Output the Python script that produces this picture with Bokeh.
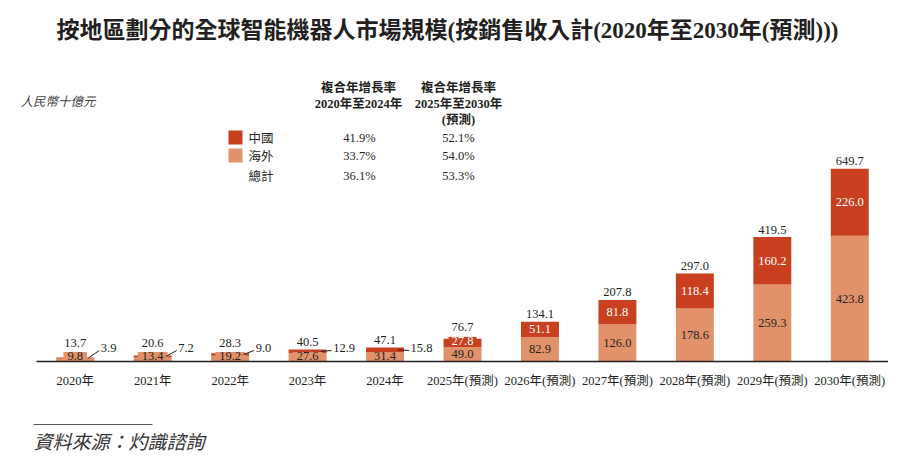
from bokeh.plotting import figure
from bokeh.models import Range1d
from bokeh.core.properties import value
from bokeh.embed import file_html
from bokeh.resources import INLINE

# ---------------- data ----------------
years = ["2020年", "2021年", "2022年", "2023年", "2024年",
         "2025年(預測)", "2026年(預測)", "2027年(預測)", "2028年(預測)",
         "2029年(預測)", "2030年(預測)"]
china = [3.9, 7.2, 9.0, 12.9, 15.8, 27.8, 51.1, 81.8, 118.4, 160.2, 226.0]
overseas = [9.8, 13.4, 19.2, 27.6, 31.4, 49.0, 82.9, 126.0, 178.6, 259.3, 423.8]
totals = [13.7, 20.6, 28.3, 40.5, 47.1, 76.7, 134.1, 207.8, 297.0, 419.5, 649.7]

series_names = ["中國", "海外", "總計"]
cagr_2020_2024 = ["41.9%", "33.7%", "36.1%"]
cagr_2025_2030 = ["52.1%", "54.0%", "53.3%"]

TITLE = "按地區劃分的全球智能機器人市場規模(按銷售收入計(2020年至2030年(預測)))"
UNIT = "人民幣十億元"
HEAD1 = ["複合年增長率", "2020年至2024年"]
HEAD2 = ["複合年增長率", "2025年至2030年", "(預測)"]
SOURCE = "資料來源：灼識諮詢"

# ---------------- styles ----------------
C_CN = "#C8401F"
C_OS = "#E2926B"
C_TXT = "#231F20"
NUM = value("Liberation Serif")
MIX = value("Liberation Serif, Noto Sans CJK TC")
CJK = value("Noto Sans CJK TC")

W, H = 888, 462
SCALE = 0.2965          # px per unit (y)
BAND = 852 / 11         # px per category (x)
BASE = 361              # baseline, px from top
XS = -0.5 - 36 / BAND
XE = XS + W / BAND
YS = -(H - BASE) / SCALE
YE = BASE / SCALE


def X(px):  # px from left -> data x
    return XS + px / W * (XE - XS)


def Y(py):  # px from top -> data y
    return YE - py / H * (YE - YS)


p = figure(width=W, height=H, output_backend="svg", toolbar_location=None,
           x_range=Range1d(XS, XE), y_range=Range1d(YS, YE),
           x_axis_type=None, y_axis_type=None, min_border=0)
p.outline_line_color = None
p.background_fill_color = "white"
p.border_fill_color = "white"

n = len(years)
idx = list(range(n))
stack_top = [o + c for o, c in zip(overseas, china)]

p.vbar(x=idx, bottom=0, top=overseas, width=0.49, fill_color=C_OS, line_color=None)
p.vbar(x=idx, bottom=overseas, top=stack_top, width=0.49, fill_color=C_CN, line_color=None)

# x axis line + labels
p.segment(x0=[-0.5], y0=[0], x1=[n - 0.5], y1=[0], line_color=C_TXT, line_width=1.5)
p.text(x=idx, y=[-19 / SCALE] * n, text=years, text_align="center",
       text_baseline="middle", text_font=MIX, text_font_size="12.5px", text_color=C_TXT)

# value labels
tot_y = []
os_in_x, os_in_y, os_in_t = [], [], []
os_bx_x, os_bx_y, os_bx_t = [], [], []
cn_in_x, cn_in_y, cn_in_t = [], [], []
cn_bx_x, cn_bx_y, cn_bx_t = [], [], []
cn_out_x, cn_out_t = [], []
ld_x0, ld_y0, ld_x1, ld_y1 = [], [], [], []
for i in idx:
    top_px = totals[i] * SCALE
    os_px = overseas[i] * SCALE
    cn_px = china[i] * SCALE
    if os_px < 12:
        ty = max(top_px + 7.5, 18.5)
        os_bx_x.append(i); os_bx_y.append(5.5 / SCALE); os_bx_t.append(f"{overseas[i]:.1f}")
        cn_out_x.append(i + 0.33); cn_out_t.append(f"{china[i]:.1f}")
        ld_x0.append(i + 0.17); ld_y0.append(overseas[i] + china[i] / 2)
        ld_x1.append(i + 0.31); ld_y1.append(11 / SCALE)
    elif cn_px < 12:
        ty = top_px + 12
        os_in_x.append(i); os_in_y.append(overseas[i] / 2); os_in_t.append(f"{overseas[i]:.1f}")
        cn_bx_x.append(i); cn_bx_y.append(overseas[i] + china[i] / 2 + 2 / SCALE)
        cn_bx_t.append(f"{china[i]:.1f}")
    else:
        ty = top_px + 7.5
        os_in_x.append(i); os_in_y.append(overseas[i] / 2); os_in_t.append(f"{overseas[i]:.1f}")
        cn_in_x.append(i); cn_in_y.append(overseas[i] + china[i] / 2); cn_in_t.append(f"{china[i]:.1f}")
    tot_y.append(ty / SCALE)

common = dict(text_font=NUM, text_font_size="12.5px", text_baseline="middle")
p.text(x=idx, y=tot_y, text=[f"{t:.1f}" for t in totals], text_align="center",
       text_color=C_TXT, **common)
p.text(x=os_in_x, y=os_in_y, text=os_in_t, text_align="center", text_color=C_TXT, **common)
p.text(x=os_bx_x, y=os_bx_y, text=os_bx_t, text_align="center", text_color=C_TXT,
       background_fill_color=C_OS, padding=(4, 0), **common)
p.text(x=cn_in_x, y=cn_in_y, text=cn_in_t, text_align="center", text_color="white", **common)
p.text(x=cn_bx_x, y=cn_bx_y, text=cn_bx_t, text_align="center", text_color="white",
       background_fill_color=C_CN, padding=(3, 0), **common)
p.segment(x0=ld_x0, y0=ld_y0, x1=ld_x1, y1=ld_y1, line_color=C_TXT, line_width=1)
p.text(x=cn_out_x, y=[14 / SCALE] * len(cn_out_x), text=cn_out_t, text_align="left",
       text_color=C_TXT, **common)

# title
p.text(x=[X(447)], y=[Y(30)], text=[TITLE], text_align="center", text_baseline="middle",
       text_font=MIX, text_font_size="23px", text_font_style="bold", text_color=C_TXT)

# unit
p.text(x=[X(20)], y=[Y(100)], text=[UNIT], text_align="left", text_baseline="middle",
       text_font=CJK, text_font_size="12.5px", text_font_style="italic", text_color="#444444")

# header of CAGR table
p.text(x=[X(358)] * 2, y=[Y(87), Y(103)], text=HEAD1, text_align="center",
       text_baseline="middle", text_font=MIX, text_font_size="12.5px",
       text_font_style="bold", text_color=C_TXT)
p.text(x=[X(458)] * 3, y=[Y(87), Y(103), Y(119)], text=HEAD2, text_align="center",
       text_baseline="middle", text_font=MIX, text_font_size="12.5px",
       text_font_style="bold", text_color=C_TXT)

# legend squares
p.scatter(x=[X(235), X(235)], y=[Y(137), Y(155)], marker="square", size=14,
          fill_color=[C_CN, C_OS], line_color=None)
row_y = [Y(137), Y(155), Y(175)]
p.text(x=[X(248)] * 3, y=row_y, text=series_names, text_align="left", text_baseline="middle",
       text_font=CJK, text_font_size="12.5px", text_color=C_TXT)
p.text(x=[X(359)] * 3, y=row_y, text=cagr_2020_2024, text_align="center",
       text_baseline="middle", text_font=NUM, text_font_size="12.5px", text_color=C_TXT)
p.text(x=[X(458)] * 3, y=row_y, text=cagr_2025_2030, text_align="center",
       text_baseline="middle", text_font=NUM, text_font_size="12.5px", text_color=C_TXT)

# source
p.segment(x0=[X(33)], y0=[Y(424)], x1=[X(152)], y1=[Y(424)], line_color="#555555", line_width=1.2)
p.text(x=[X(33)], y=[Y(440)], text=[SOURCE], text_align="left", text_baseline="middle",
       text_font=CJK, text_font_size="19px", text_font_style="italic", text_color="#333333")

open("out.html", "w").write(file_html(p, INLINE))
